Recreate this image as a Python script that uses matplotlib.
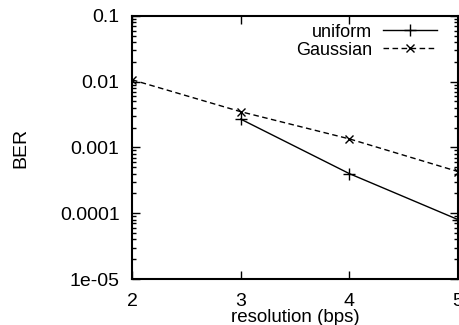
import matplotlib
matplotlib.use('Agg')
import matplotlib.pyplot as plt
from matplotlib.ticker import LogLocator, NullFormatter, FixedLocator

plt.rcParams['font.family'] = ['Liberation Sans', 'DejaVu Sans']
plt.rcParams['font.size'] = 14

uni_x = [3, 4, 5]
uni_ber = [0.0027, 0.0004, 0.00008]
gau_x = [2, 3, 4, 5]
gau_ber = [0.0107, 0.0035, 0.00135, 0.00043]
xticks = [2, 3, 4, 5]
yticks = [1e-5, 1e-4, 1e-3, 1e-2, 1e-1]
ylabels = ['1e-05', '0.0001', '0.001', '0.01', '0.1']

fig = plt.figure(figsize=(4.59, 3.25), dpi=100)
ax = fig.add_axes([0.2876, 0.1415, 0.7104, 0.8095])
ax.plot(uni_x, uni_ber, '-', color='black', linewidth=1, marker='+',
        markersize=8, markeredgewidth=1, label='uniform')
ax.plot(gau_x, gau_ber, '--', color='black', linewidth=1, marker='x',
        markersize=6, markeredgewidth=1, dashes=(4, 2.5), label='Gaussian')
ax.set_yscale('log')
ax.set_xlim(2, 5)
ax.set_ylim(1e-5, 0.1)
ax.xaxis.set_major_locator(FixedLocator(xticks))
ax.set_xticklabels([str(t) for t in xticks])
ax.set_yticks(yticks)
ax.set_yticklabels(ylabels)
ax.yaxis.set_minor_locator(LogLocator(base=10, subs=range(2, 10)))
ax.yaxis.set_minor_formatter(NullFormatter())
ax.tick_params(which='both', direction='in', top=True, right=True)
ax.tick_params(axis='y', which='major', length=6, width=1, pad=9)
ax.tick_params(axis='x', which='major', length=6, width=1, pad=10)
ax.tick_params(which='minor', length=3, width=1)
for s in ax.spines.values():
    s.set_linewidth(1.5)
ax.set_xlabel('resolution (bps)', fontsize=13.5, labelpad=-1)
ax.set_ylabel('BER', fontsize=14, labelpad=22)
ax.legend(loc='upper right', bbox_to_anchor=(0.936, 0.97), frameon=False,
          markerfirst=False, fontsize=13, handlelength=3.0, borderaxespad=0,
          borderpad=0, labelspacing=0.05, handletextpad=0.6)
fig.savefig('out.png', dpi=100)
